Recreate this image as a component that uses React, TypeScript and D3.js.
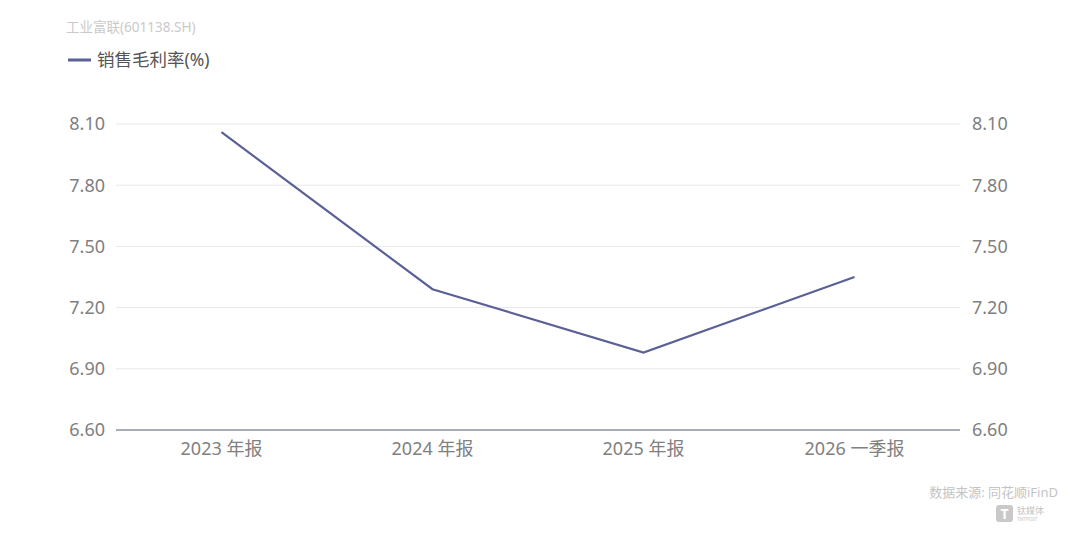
import React, { useEffect, useRef } from 'react';
import * as d3 from 'd3';

const categories = ['2023 年报', '2024 年报', '2025 年报', '2026 一季报'];
const grossMargin = [8.06, 7.29, 6.98, 7.35];
const yTicks = [6.6, 6.9, 7.2, 7.5, 7.8, 8.1];

const W = 1080;
const H = 546;
const FONT = '"Noto Sans", "Noto Sans CJK SC", sans-serif';
const LINE = '#5b6097';
const LABEL = '#808080';

const App = () => {
    const svgRef = useRef<SVGSVGElement>(null);

    useEffect(() => {
        const svg = d3.select(svgRef.current);
        svg.selectAll('*').remove();

        const margin = { top: 124, right: 120, bottom: 116, left: 116 };
        const innerW = W - margin.left - margin.right;
        const innerH = H - margin.top - margin.bottom;

        const x = d3.scaleBand().domain(categories).range([0, innerW]);
        const y = d3.scaleLinear().domain([6.6, 8.1]).range([innerH, 0]);

        svg.append('rect').attr('width', W).attr('height', H).attr('fill', '#fff');

        // title + legend
        svg.append('text')
            .attr('x', 66).attr('y', 32)
            .style('font-family', FONT).style('font-size', '13.5px')
            .attr('fill', '#cacaca')
            .text('工业富联(601138.SH)');
        svg.append('line')
            .attr('x1', 68).attr('x2', 91).attr('y1', 60).attr('y2', 60)
            .attr('stroke', LINE).attr('stroke-width', 3);
        svg.append('text')
            .attr('x', 97).attr('y', 66)
            .style('font-family', FONT).style('font-size', '17.5px')
            .attr('fill', '#555')
            .text('销售毛利率(%)');

        const g = svg.append('g').attr('transform', `translate(${margin.left},${margin.top})`);

        // grid
        g.selectAll('.grid')
            .data(yTicks.filter(t => t !== 6.6))
            .enter().append('line')
            .attr('x1', 0).attr('x2', innerW)
            .attr('y1', d => y(d)).attr('y2', d => y(d))
            .attr('stroke', '#e6e8ec').attr('stroke-width', 1);

        // bottom axis line
        g.append('line')
            .attr('x1', 0).attr('x2', innerW)
            .attr('y1', innerH).attr('y2', innerH)
            .attr('stroke', '#8d92a3').attr('stroke-width', 1.5);

        // y labels both sides
        const fmt = d3.format('.2f');
        g.selectAll('.yl')
            .data(yTicks)
            .enter().append('text')
            .attr('x', -11).attr('y', d => y(d)).attr('dy', '0.35em')
            .attr('text-anchor', 'end')
            .style('font-family', FONT).style('font-size', '18px')
            .attr('fill', LABEL)
            .text(d => fmt(d));
        g.selectAll('.yr')
            .data(yTicks)
            .enter().append('text')
            .attr('x', innerW + 12).attr('y', d => y(d)).attr('dy', '0.35em')
            .attr('text-anchor', 'start')
            .style('font-family', FONT).style('font-size', '18px')
            .attr('fill', LABEL)
            .text(d => fmt(d));

        // x labels
        g.selectAll('.xl')
            .data(categories)
            .enter().append('text')
            .attr('x', d => (x(d) as number) + x.bandwidth() / 2)
            .attr('y', innerH + 25)
            .attr('text-anchor', 'middle')
            .style('font-family', FONT).style('font-size', '18px')
            .attr('fill', LABEL)
            .text(d => d);

        // line
        const line = d3.line<number>()
            .x((d, i) => (x(categories[i]) as number) + x.bandwidth() / 2)
            .y(d => y(d));
        g.append('path')
            .datum(grossMargin)
            .attr('fill', 'none')
            .attr('stroke', LINE)
            .attr('stroke-width', 2.2)
            .attr('d', line);

        // source + logo
        svg.append('text')
            .attr('x', 1058).attr('y', 497)
            .attr('text-anchor', 'end')
            .style('font-family', FONT).style('font-size', '13px')
            .attr('fill', '#c4c4c4')
            .text('数据来源: 同花顺iFinD');
        svg.append('rect')
            .attr('x', 996).attr('y', 505).attr('width', 17).attr('height', 17).attr('rx', 3)
            .attr('fill', '#c9c9c9');
        svg.append('text')
            .attr('x', 1004.5).attr('y', 519).attr('text-anchor', 'middle')
            .style('font-family', FONT).style('font-size', '14px').style('font-weight', 'bold')
            .attr('fill', '#fff')
            .text('T');
        svg.append('text')
            .attr('x', 1017).attr('y', 514)
            .style('font-family', FONT).style('font-size', '9px')
            .attr('fill', '#c4c4c4')
            .text('钛媒体');
        svg.append('text')
            .attr('x', 1017).attr('y', 521)
            .style('font-family', FONT).style('font-size', '4.5px')
            .attr('fill', '#c4c4c4')
            .text('TMTPOST');
    }, []);

    return (
        <div style={{ position: 'absolute', left: 0, top: 0 }}>
            <svg ref={svgRef} width={W} height={H} style={{ display: 'block' }} />
        </div>
    );
};

export default App;
